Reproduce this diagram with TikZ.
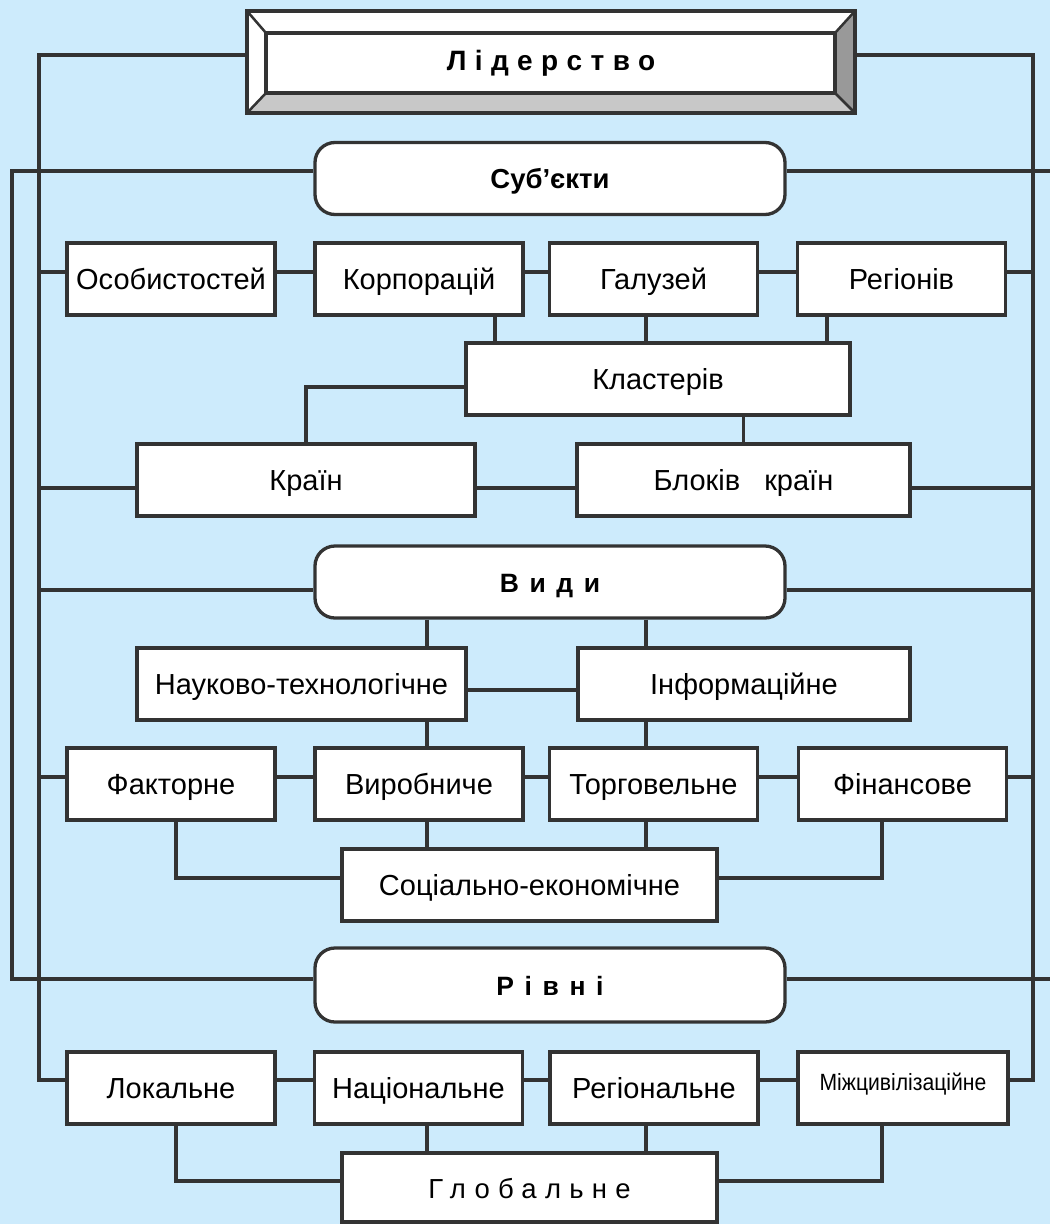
\documentclass[tikz,border=0pt]{standalone}
\usepackage{fontspec}
\setmainfont{Liberation Sans}
\newfontfamily\wideA[LetterSpace=40]{Liberation Sans}
\newfontfamily\wideL[LetterSpace=30]{Liberation Sans}
\newfontfamily\wideB[LetterSpace=30]{Liberation Sans}
\definecolor{bgc}{RGB}{205,235,252}
\definecolor{lc}{HTML}{333333}
\definecolor{bevL}{HTML}{C8C8C8}
\definecolor{bevD}{HTML}{999999}
\tikzset{
  conn/.style={draw=lc, line width=3.3pt},
  box/.style={draw=lc, line width=3.3pt, fill=white, inner sep=0pt, text=black,
    text height=21pt, text depth=0pt, font=\fontsize{29}{32}\selectfont},
  rbox/.style={box, rounded corners=20pt, minimum width=470pt, minimum height=72pt,
    text height=20pt, font=\fontsize{27.5}{30}\selectfont\bfseries},
  sbox/.style={minimum width=208pt, minimum height=72pt},
}
\begin{document}
\begin{tikzpicture}[x=1pt,y=-1pt]
\useasboundingbox (0,0) rectangle (1050,1224);
\fill[bgc] (0,0) rectangle (1050,1224);
% bevelled title box
\fill[white] (247,11) -- (855,11) -- (835,33) -- (266,33) -- cycle;
\fill[white] (247,11) -- (266,33) -- (266,93) -- (247,113) -- cycle;
\fill[bevL] (247,113) -- (266,93) -- (835,93) -- (855,113) -- cycle;
\fill[bevD] (855,11) -- (835,33) -- (835,93) -- (855,113) -- cycle;
\fill[white] (266,33) rectangle (835,93);
\draw[lc, line width=3.3pt, line join=miter] (247,11) rectangle (855,113);
\draw[lc, line width=3.3pt] (266,33) rectangle (835,93);
\draw[lc, line width=2.5pt] (247,11) -- (266,33) (855,11) -- (835,33) (855,113) -- (835,93) (247,113) -- (266,93);
\node[minimum width=608pt, minimum height=102pt, inner sep=0pt, text height=20pt, text depth=0pt,
  font=\wideL\fontsize{28}{30}\selectfont\bfseries] (lid) at (551,60) {Лідерство};

% bus coordinates
\coordinate (busL) at (39,0);
\coordinate (busLL) at (12,0);
\coordinate (busR) at (1033,0);
\coordinate (edgeR) at (1050,0);
\coordinate (cA) at (427,0);
\coordinate (cB) at (646,0);
\coordinate (c495) at (495,0);
\coordinate (c827) at (827,0);
\coordinate (c176) at (176,0);
\coordinate (c882) at (882,0);

% nodes
\node[rbox] (sub) at (550,178.5) {Суб’єкти};
\node[box, sbox] (os) at (171,279) {Особистостей};
\node[box, sbox] (korp) at (419,279) {Корпорацій};
\node[box, sbox] (gal) at (653.5,279) {Галузей};
\node[box, sbox] (reg) at (901.5,279) {Регіонів};
\node[box, minimum width=384pt, minimum height=72pt] (klas) at (658,379) {Кластерів};
\node[box, minimum width=338pt, minimum height=72pt] (kr) at (306,480) {Країн};
\node[box, minimum width=333pt, minimum height=72pt] (bl) at (743.5,480) {Блоків\hspace{16pt} країн};
\node[rbox, font=\wideA\fontsize{26.5}{30}\selectfont\bfseries] (vyd) at (550,582) {Види};
\node[box, minimum width=329pt, minimum height=72pt] (nt) at (301.5,684) {Науково-технологічне};
\node[box, minimum width=332pt, minimum height=72pt] (inf) at (744,684) {Інформаційне};
\node[box, sbox] (fak) at (171,784) {Факторне};
\node[box, sbox] (vyr) at (419,784) {Виробниче};
\node[box, sbox] (torg) at (653.5,784) {Торговельне};
\node[box, sbox] (fin) at (902.5,784) {Фінансове};
\node[box, minimum width=375pt, minimum height=72pt] (soc) at (529.5,885) {Соціально-економічне};
\node[rbox, minimum height=74pt, font=\wideA\fontsize{26.5}{30}\selectfont\bfseries] (riv) at (550,985) {Рівні};
\node[box, sbox] (lok) at (171,1088) {Локальне};
\node[box, sbox] (nac) at (418.5,1088) {Національне};
\node[box, sbox] (regl) at (654,1088) {Регіональне};
\node[box, minimum width=210pt, minimum height=72pt, text height=4pt] (mizh) at (903,1088)
  {\scalebox{0.9}[1]{\fontsize{23.5}{26}\selectfont Міжцивілізаційне}};
\node[box, minimum width=375pt, minimum height=69pt, font=\wideB\fontsize{27.5}{30}\selectfont] (glob) at (529.5,1187.5) {Глобальне};

% line anchor points
\coordinate (pLidW) at ([yshift=5pt]lid.west);
\coordinate (pLidE) at ([yshift=5pt]lid.east);
\coordinate (pSubW) at ([yshift=7.5pt]sub.west);
\coordinate (pSubE) at ([yshift=7.5pt]sub.east);
\coordinate (pOsW) at ([yshift=7pt]os.west);
\coordinate (pRegE) at ([yshift=7pt]reg.east);
\coordinate (pKrW) at ([yshift=-8pt]kr.west);
\coordinate (pBlE) at ([yshift=-8pt]bl.east);
\coordinate (pVydW) at ([yshift=-8pt]vyd.west);
\coordinate (pVydE) at ([yshift=-8pt]vyd.east);
\coordinate (pFakW) at ([yshift=7pt]fak.west);
\coordinate (pFinE) at ([yshift=7pt]fin.east);
\coordinate (pRivW) at ([yshift=6pt]riv.west);
\coordinate (pRivE) at ([yshift=6pt]riv.east);
\coordinate (pLokW) at ([yshift=8pt]lok.west);
\coordinate (pMizhE) at ([yshift=8pt]mizh.east);

% buses
\draw[conn] (pLidW) -- (pLidW -| busL) -- (pLokW -| busL) -- (pLokW);
\draw[conn] (pOsW -| busL) -- (pOsW);
\draw[conn] (pKrW -| busL) -- (pKrW);
\draw[conn] (pVydW -| busL) -- (pVydW);
\draw[conn] (pFakW -| busL) -- (pFakW);
\draw[conn] (pLidE) -- (pLidE -| busR) -- (pMizhE -| busR) -- (pMizhE);
\draw[conn] (pRegE) -- (pRegE -| busR);
\draw[conn] (pBlE) -- (pBlE -| busR);
\draw[conn] (pVydE) -- (pVydE -| busR);
\draw[conn] (pFinE) -- (pFinE -| busR);
\draw[conn] (pSubW) -- (pSubW -| busLL) -- (pRivW -| busLL) -- (pRivW);
\draw[conn] (pSubE) -- (pSubE -| edgeR);
\draw[conn] (pRivE) -- (pRivE -| edgeR);

% row 1
\draw[conn] ([yshift=7pt]os.east) -- ([yshift=7pt]korp.west);
\draw[conn] ([yshift=7pt]korp.east) -- ([yshift=7pt]gal.west);
\draw[conn] ([yshift=7pt]gal.east) -- ([yshift=7pt]reg.west);
\draw[conn] (korp.south -| c495) -- (klas.north -| c495);
\draw[conn] (gal.south -| cB) -- (klas.north -| cB);
\draw[conn] (reg.south -| c827) -- (klas.north -| c827);
\draw[conn] ([yshift=-8pt]klas.west) -| (kr.north);
\draw[conn] (klas.south -| bl.north) -- (bl.north);
\draw[conn] ([yshift=-8pt]kr.east) -- ([yshift=-8pt]bl.west);

% types
\draw[conn] (vyd.south -| cA) -- (nt.north -| cA);
\draw[conn] (vyd.south -| cB) -- (inf.north -| cB);
\draw[conn] ([yshift=-6pt]nt.east) -- ([yshift=-6pt]inf.west);
\draw[conn] (nt.south -| cA) -- (vyr.north -| cA);
\draw[conn] (inf.south -| cB) -- (torg.north -| cB);
\draw[conn] ([yshift=7pt]fak.east) -- ([yshift=7pt]vyr.west);
\draw[conn] ([yshift=7pt]vyr.east) -- ([yshift=7pt]torg.west);
\draw[conn] ([yshift=7pt]torg.east) -- ([yshift=7pt]fin.west);
\draw[conn] (vyr.south -| cA) -- (soc.north -| cA);
\draw[conn] (torg.south -| cB) -- (soc.north -| cB);
\draw[conn] ([yshift=7pt]soc.west) -| (fak.south -| c176);
\draw[conn] ([yshift=7pt]soc.east) -| (fin.south -| c882);

% levels
\draw[conn] ([yshift=8pt]lok.east) -- ([yshift=8pt]nac.west);
\draw[conn] ([yshift=8pt]nac.east) -- ([yshift=8pt]regl.west);
\draw[conn] ([yshift=8pt]regl.east) -- ([yshift=8pt]mizh.west);
\draw[conn] (nac.south -| cA) -- (glob.north -| cA);
\draw[conn] (regl.south -| cB) -- (glob.north -| cB);
\draw[conn] ([yshift=6.5pt]glob.west) -| (lok.south -| c176);
\draw[conn] ([yshift=6.5pt]glob.east) -| (mizh.south -| c882);
\end{tikzpicture}
\end{document}
